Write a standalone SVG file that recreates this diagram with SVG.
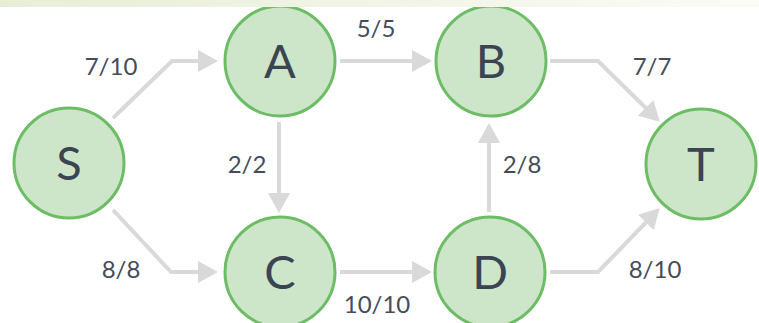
<svg xmlns="http://www.w3.org/2000/svg" width="759" height="323" viewBox="0 0 759 323">
<style>
.node circle{fill:#cde5c8;stroke:#6dbd66;stroke-width:3}
.node text{font-family:Lato,"Open Sans","Liberation Sans",sans-serif;font-size:47px;font-weight:400;fill:#3b4452;text-anchor:middle}
.edge{fill:none;stroke:#d9d9d9;stroke-width:4;stroke-linejoin:miter}
.lbl{font-family:Lato,"Open Sans","Liberation Sans",sans-serif;font-size:24px;fill:#454c59;text-anchor:middle}
</style>
<defs>
<marker id="arr" markerUnits="userSpaceOnUse" markerWidth="20" markerHeight="22" refX="16" refY="11" orient="auto">
<path d="M0,0 L20,11 L0,22 Z" fill="#d9d9d9"/>
</marker>
<linearGradient id="band" x1="0" x2="1" y1="0" y2="0">
<stop offset="0" stop-color="#e8eed6"/>
<stop offset="1" stop-color="#fbfbf6"/>
</linearGradient>
</defs>
<rect width="759" height="323" fill="#ffffff"/>
<g id="connectors">
<path class="edge" marker-end="url(#arr)" d="M113,118 L172,61 L214,61"/>
<path class="edge" marker-end="url(#arr)" d="M340,61 L428,61"/>
<path class="edge" marker-end="url(#arr)" d="M550,61 L598,61 L657,119"/>
<path class="edge" marker-end="url(#arr)" d="M279,122 L279,209"/>
<path class="edge" marker-end="url(#arr)" d="M113,210 L171,272 L214,272"/>
<path class="edge" marker-end="url(#arr)" d="M340,272 L428,272"/>
<path class="edge" marker-end="url(#arr)" d="M489,212 L489,127"/>
<path class="edge" marker-end="url(#arr)" d="M550,272 L598,272 L657,211"/>
<text class="lbl" x="111" y="75">7/10</text>
<text class="lbl" x="376" y="37">5/5</text>
<text class="lbl" x="652" y="75">7/7</text>
<text class="lbl" x="247" y="173">2/2</text>
<text class="lbl" x="522" y="173">2/8</text>
<text class="lbl" x="121" y="278">8/8</text>
<text class="lbl" x="377" y="313">10/10</text>
<text class="lbl" x="655" y="278">8/10</text>
</g>
<g id="node-S" class="node"><circle cx="69" cy="163" r="55"/><text x="69" y="180">S</text></g>
<g id="node-A" class="node"><circle cx="280" cy="61" r="55"/><text x="280" y="78">A</text></g>
<g id="node-B" class="node"><circle cx="491" cy="61" r="55"/><text x="491" y="78">B</text></g>
<g id="node-C" class="node"><circle cx="280" cy="272" r="55"/><text x="280" y="289">C</text></g>
<g id="node-D" class="node"><circle cx="490" cy="272" r="55"/><text x="490" y="289">D</text></g>
<g id="node-T" class="node"><circle cx="701" cy="164" r="55"/><text x="701" y="181">T</text></g>
<rect x="0" y="0" width="759" height="7" fill="url(#band)"/>
</svg>
